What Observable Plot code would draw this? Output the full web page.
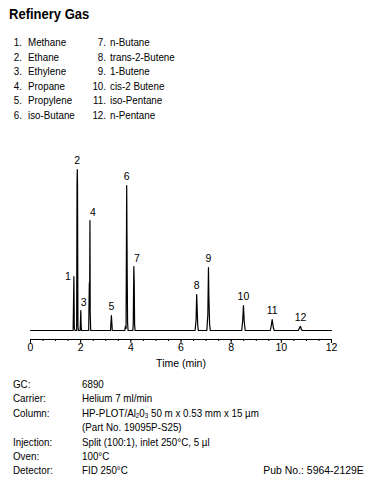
<!DOCTYPE html>
<html>
<head>
<meta charset="utf-8">
<script src="https://cdn.jsdelivr.net/npm/d3@7"></script>
<script src="https://cdn.jsdelivr.net/npm/@observablehq/plot@0.6"></script>
<style>
  html, body { margin: 0; padding: 0; background: #fff; }
  #page { position: relative; width: 369px; height: 492px; overflow: hidden;
          font-family: "Liberation Sans", Arial, sans-serif; color: #000; }
  .abs { position: absolute; white-space: nowrap; font-size: 11px; line-height: 14px;
         transform: scaleX(0.89); transform-origin: 0 50%; }
  .num { text-align: right; transform-origin: 100% 50%; }
  #title { position: absolute; left: 9px; top: 3.5px; font-size: 15.5px; font-weight: bold; line-height: 20px;
           white-space: nowrap; transform: scaleX(0.84); transform-origin: 0 50%; }
  #chart { position: absolute; left: 0; top: 140px; }
  sub { font-size: 7px; vertical-align: -1px; line-height: 0; }
</style>
</head>
<body>
<div id="page">
  <div id="title"></div>
  <div id="legend"></div>
  <div id="chart"></div>
  <div id="footer"></div>
</div>
<script>
// ---- data ----
const chartTitle = "Refinery Gas";
const peakIds = [1, 2, 3, 4, 5, 6, 7, 8, 9, 10, 11, 12];
const peakNames = ["Methane", "Ethane", "Ethylene", "Propane", "Propylene", "iso-Butane",
                   "n-Butane", "trans-2-Butene", "1-Butene", "cis-2 Butene", "iso-Pentane", "n-Pentane"];
const peakTimes = [1.73, 1.865, 2.005, 2.37, 3.225, 3.835, 4.12, 6.625, 7.095, 8.49, 9.635, 10.765];
const peakHeights = [54, 161, 20, 110, 15, 145, 64, 36, 63, 25, 11, 4];

// chromatogram trace (time in min, detector signal)
const traceTimes = [0,
  1.70, 1.73, 1.745, 1.76, 1.78,
  1.84, 1.855, 1.865, 1.875, 1.89, 1.91,
  1.98, 2.005, 2.02, 2.035,
  2.32, 2.345, 2.36, 2.37, 2.38, 2.40,
  3.19, 3.225, 3.24, 3.26,
  3.76, 3.78, 3.81, 3.835, 3.855, 3.87, 3.89,
  4.08, 4.095, 4.12, 4.135, 4.15, 4.17,
  6.56, 6.60, 6.625, 6.64, 6.665, 6.69,
  7.03, 7.07, 7.095, 7.11, 7.14, 7.17,
  8.42, 8.46, 8.49, 8.52, 8.56,
  9.56, 9.60, 9.635, 9.68, 9.72,
  10.68, 10.73, 10.765, 10.80, 10.84,
  12];
const traceSignal = [0,
  0, 54, 3, 1, 0,
  0, 145, 161, 145, 5, 0,
  0, 20, 4, 0,
  0, 47, 49, 110, 18, 0,
  0, 15, 9, 0,
  0, 4, 2, 145, 57, 8, 0,
  0, 5, 64, 48, 6, 0,
  0, 10, 36, 26, 6, 0,
  0, 16, 63, 35, 6, 0,
  0, 10, 25, 9, 0,
  0, 5, 11, 3, 0,
  0, 3, 4, 1, 0,
  0];

const xDomain = [0, 12];
const majorTicks = [0, 2, 4, 6, 8, 10, 12];
const minorTicks = [0, 0.5, 1, 1.5, 2, 2.5, 3, 3.5, 4, 4.5, 5, 5.5, 6, 6.5, 7, 7.5, 8, 8.5, 9, 9.5, 10, 10.5, 11, 11.5, 12];
const xLabel = "Time (min)";

const conditionLabels = ["GC:", "Carrier:", "Column:", "", "Injection:", "Oven:", "Detector:"];
const conditionValues = ["6890", "Helium 7 ml/min",
  "HP-PLOT/Al<sub>2</sub>0<sub>3</sub> 50 m x 0.53 mm x 15 µm",
  "(Part No. 19095P-S25)", "Split (100:1), inlet 250°C, 5 µl", "100°C", "FID 250°C"];
const pubNo = "Pub No.: 5964-2129E";

document.getElementById("title").textContent = chartTitle;

// ---- legend ----
const legend = document.getElementById("legend");
peakIds.forEach((id, i) => {
  const col = i < 6 ? 0 : 1;
  const row = i % 6;
  const cy = 42 + row * 14.5;
  const n = document.createElement("div");
  n.className = "abs num";
  n.style.left = (col === 0 ? 0 : 80) + "px";
  n.style.width = (col === 0 ? 22 : 26) + "px";
  n.style.top = (cy - 7) + "px";
  n.textContent = id + ".";
  legend.appendChild(n);
  const t = document.createElement("div");
  t.className = "abs";
  t.style.left = (col === 0 ? 28 : 110) + "px";
  t.style.top = (cy - 7) + "px";
  t.textContent = peakNames[i];
  legend.appendChild(t);
});

// ---- chart ----
const trace = traceTimes.map((t, i) => ({t, s: traceSignal[i]}));
const peaks = peakIds.map((id, i) => ({id, t: peakTimes[i], h: peakHeights[i]}));
const leftLabels = peaks.filter(d => d.id === 1);
const rightLabels = peaks.filter(d => [3, 4, 7].includes(d.id));
const topLabels = peaks.filter(d => ![1, 3, 4, 7].includes(d.id));

const font = '"Liberation Sans", Arial, sans-serif';
const chart = Plot.plot({
  width: 369,
  height: 235,
  marginLeft: 30,
  marginRight: 38,
  marginTop: 10,
  marginBottom: 36,
  style: {fontFamily: font, fontSize: "10.5px", color: "#000", background: "transparent"},
  x: {domain: xDomain},
  y: {domain: [-9, 180], axis: null},
  marks: [
    Plot.ruleY([-9], {stroke: "#000", strokeWidth: 1.2}),
    Plot.axisX({ticks: minorTicks, tickSize: 2, tickFormat: () => "", label: null, stroke: "#000"}),
    Plot.axisX({ticks: majorTicks, tickSize: 4, tickPadding: 0, tickFormat: d => String(d),
                label: xLabel, labelAnchor: "center", labelArrow: "none", labelOffset: 27,
                fontSize: 10.5, stroke: "#000"}),
    Plot.line(trace, {x: "t", y: "s", stroke: "#000", strokeWidth: 1.2, curve: "linear"}),
    Plot.text(topLabels, {x: "t", y: "h", text: d => String(d.id), dy: -9, fontSize: 10.5, fill: "#000"}),
    Plot.text(rightLabels, {x: "t", y: "h", text: d => String(d.id), dy: -8, dx: 3, fontSize: 10.5, fill: "#000"}),
    Plot.text(leftLabels, {x: "t", y: "h", text: d => String(d.id), dy: 0, dx: -6, fontSize: 10.5, fill: "#000"})
  ]
});
document.getElementById("chart").appendChild(chart);

// ---- footer ----
const footer = document.getElementById("footer");
conditionLabels.forEach((lab, i) => {
  const cy = 384 + i * 14.4;
  const a = document.createElement("div");
  a.className = "abs";
  a.style.left = "13px";
  a.style.top = (cy - 7) + "px";
  a.textContent = lab;
  footer.appendChild(a);
  const b = document.createElement("div");
  b.className = "abs";
  b.style.left = "82px";
  b.style.top = (cy - 7) + "px";
  b.innerHTML = conditionValues[i];
  footer.appendChild(b);
});
const p = document.createElement("div");
p.className = "abs num";
p.style.right = "5px";
p.style.top = (384 + 6 * 14.4 - 7) + "px";
p.style.transform = "scaleX(0.95)";
p.textContent = pubNo;
footer.appendChild(p);
</script>
</body>
</html>
